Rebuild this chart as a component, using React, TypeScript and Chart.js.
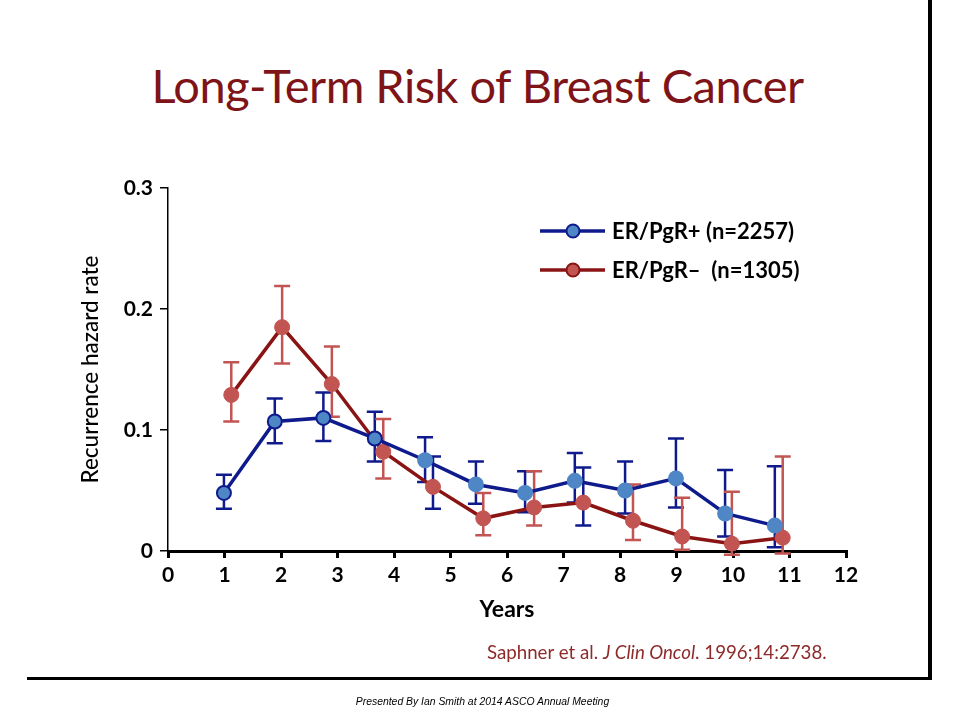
import { useEffect, useRef } from "react";
import { Chart, registerables } from "chart.js";

Chart.register(...registerables);

// series names (legend)
const seriesNames = ["ER/PgR+ (n=2257)", "ER/PgR\u2013  (n=1305)"];

// ER/PgR+ : year position, hazard rate, lower / upper error bar
const posYears = [0.99, 1.89, 2.75, 3.66, 4.55, 5.45, 6.32, 7.2, 8.09, 8.99, 9.86, 10.74];
const posRate = [0.048, 0.107, 0.11, 0.093, 0.075, 0.055, 0.048, 0.058, 0.05, 0.06, 0.031, 0.021];
const posLow = [0.035, 0.089, 0.091, 0.074, 0.057, 0.039, 0.032, 0.04, 0.031, 0.036, 0.012, 0.003];
const posHigh = [0.063, 0.126, 0.131, 0.115, 0.094, 0.074, 0.066, 0.081, 0.074, 0.093, 0.067, 0.07];

// ER/PgR- : year position, hazard rate, lower / upper error bar
const negYears = [1.12, 2.02, 2.9, 3.81, 4.69, 5.58, 6.48, 7.35, 8.23, 9.1, 9.98, 10.88];
const negRate = [0.129, 0.185, 0.138, 0.082, 0.053, 0.027, 0.036, 0.04, 0.025, 0.012, 0.006, 0.011];
const negLow = [0.107, 0.155, 0.111, 0.06, 0.035, 0.013, 0.021, 0.021, 0.009, 0.001, -0.003, -0.002];
const negHigh = [0.156, 0.219, 0.169, 0.109, 0.078, 0.048, 0.066, 0.069, 0.055, 0.044, 0.049, 0.078];

// axis ticks
const xTicks = [0, 1, 2, 3, 4, 5, 6, 7, 8, 9, 10, 11, 12];
const yTicks = [0, 0.1, 0.2, 0.3];

const NAVY = "#0f1b8c";
const LIGHT_BLUE = "#4f86c6";
const DARK_RED = "#8a1414";
const RED = "#c25452";

// in the slide, two of the red error bars are drawn in navy
const negNavyBars = [4, 7];

const errorBars = {
  id: "errorBars",
  beforeDatasetsDraw(chart) {
    const { ctx } = chart;
    const yScale = chart.scales.y;
    chart.data.datasets.forEach((ds, i) => {
      const meta = chart.getDatasetMeta(i);
      meta.data.forEach((pt, j) => {
        const x = pt.x;
        const yl = yScale.getPixelForValue(ds.errLow[j]);
        const yh = yScale.getPixelForValue(ds.errHigh[j]);
        ctx.save();
        ctx.strokeStyle = ds.errColor(j);
        ctx.lineWidth = 2.5;
        ctx.beginPath();
        ctx.moveTo(x, yl);
        ctx.lineTo(x, yh);
        ctx.moveTo(x - 8, yl);
        ctx.lineTo(x + 8, yl);
        ctx.moveTo(x - 8, yh);
        ctx.lineTo(x + 8, yh);
        ctx.stroke();
        ctx.restore();
      });
    });
  },
};

const slideLegend = {
  id: "slideLegend",
  afterDraw(chart) {
    const { ctx } = chart;
    const styles = [
      { line: NAVY, fill: LIGHT_BLUE },
      { line: DARK_RED, fill: RED },
    ];
    ctx.save();
    seriesNames.forEach((name, i) => {
      const y = 231 + i * 39;
      ctx.strokeStyle = styles[i].line;
      ctx.lineWidth = 3.5;
      ctx.beginPath();
      ctx.moveTo(540, y);
      ctx.lineTo(605, y);
      ctx.stroke();
      ctx.beginPath();
      ctx.arc(573, y, 6.5, 0, Math.PI * 2);
      ctx.fillStyle = styles[i].fill;
      ctx.fill();
      ctx.lineWidth = 2;
      ctx.stroke();
      ctx.fillStyle = "#000";
      ctx.font = "bold 22px Lato";
      ctx.textBaseline = "middle";
      ctx.fillText(name, 612, y + 1);
    });
    ctx.restore();
  },
};

export default function App() {
  const canvasRef = useRef(null);

  useEffect(() => {
    const chart = new Chart(canvasRef.current, {
      type: "line",
      data: {
        datasets: [
          {
            label: seriesNames[0],
            data: posYears.map((x, i) => ({ x, y: posRate[i] })),
            errLow: posLow,
            errHigh: posHigh,
            errColor: () => NAVY,
            borderColor: NAVY,
            borderWidth: 3.5,
            pointRadius: 7,
            pointBackgroundColor: LIGHT_BLUE,
            pointBorderColor: (c) => (c.dataIndex < 4 ? NAVY : LIGHT_BLUE),
            pointBorderWidth: 2,
            tension: 0,
          },
          {
            label: seriesNames[1],
            data: negYears.map((x, i) => ({ x, y: negRate[i] })),
            errLow: negLow,
            errHigh: negHigh,
            errColor: (j) => (negNavyBars.includes(j) ? NAVY : RED),
            borderColor: DARK_RED,
            borderWidth: 3.5,
            pointRadius: 7.5,
            pointBackgroundColor: RED,
            pointBorderColor: RED,
            pointBorderWidth: 1,
            tension: 0,
          },
        ],
      },
      options: {
        animation: false,
        responsive: true,
        maintainAspectRatio: false,
        layout: { padding: { left: 0, top: 188, right: 114, bottom: 0 } },
        plugins: {
          legend: { display: false },
          tooltip: { enabled: false },
        },
        scales: {
          x: {
            type: "linear",
            min: 0,
            max: 12,
            afterFit: (s) => {
              s.height = 169;
            },
            afterBuildTicks: (s) => {
              s.ticks = xTicks.map((v) => ({ value: v }));
            },
            border: { display: true, color: "#000", width: 3 },
            grid: {
              drawOnChartArea: false,
              drawTicks: true,
              tickLength: 7,
              color: "#000",
              lineWidth: 3,
            },
            ticks: {
              color: "#000",
              padding: 5,
              maxRotation: 0,
              font: { family: "Lato", size: 21, weight: "bold" },
            },
            title: {
              display: true,
              text: "Years",
              color: "#000",
              font: { family: "Lato", size: 23, weight: "bold" },
              padding: { top: 0, bottom: 97 },
            },
          },
          y: {
            min: 0,
            max: 0.3,
            afterFit: (s) => {
              s.width = 168;
            },
            afterBuildTicks: (s) => {
              s.ticks = yTicks.map((v) => ({ value: v }));
            },
            border: { display: true, color: "#000", width: 1.5 },
            grid: {
              drawOnChartArea: false,
              drawTicks: true,
              tickLength: 8,
              color: "#000",
              lineWidth: 1.5,
            },
            ticks: {
              color: "#000",
              padding: 7,
              font: { family: "Lato", size: 21, weight: "bold" },
              callback: (v) => (v === 0 ? "0" : Number(v).toFixed(1)),
            },
            title: {
              display: true,
              text: "Recurrence hazard rate",
              color: "#000",
              font: { family: "Lato", size: 22.5, weight: "500" },
              padding: { top: 77, bottom: 0 },
            },
          },
        },
      },
      plugins: [errorBars, slideLegend],
    });
    return () => chart.destroy();
  }, []);

  return (
    <div
      style={{
        position: "fixed",
        left: 0,
        top: 0,
        width: 960,
        height: 720,
        background: "#fff",
        overflow: "hidden",
      }}
    >
      <div
        style={{
          position: "absolute",
          left: 0,
          width: 955,
          top: 57,
          textAlign: "center",
          fontFamily: "Lato",
          fontSize: 47,
          color: "#7e1418",
          letterSpacing: -0.5,
          whiteSpace: "nowrap",
        }}
      >
        Long-Term Risk of Breast Cancer
      </div>
      <canvas ref={canvasRef} style={{ position: "absolute", left: 0, top: 0, width: 960, height: 720 }}></canvas>
      <div
        style={{
          position: "absolute",
          left: 487,
          top: 641,
          fontFamily: "Lato",
          fontSize: 18.7,
          color: "#8e2a2a",
          whiteSpace: "nowrap",
        }}
      >
        Saphner et al. <i>J Clin Oncol</i>. 1996;14:2738.
      </div>
      <div style={{ position: "absolute", left: 27, top: 677, width: 905, height: 3, background: "#000" }}></div>
      <div style={{ position: "absolute", left: 928, top: 0, width: 4, height: 680, background: "#000" }}></div>
      <div
        style={{
          position: "absolute",
          left: 0,
          width: 965,
          top: 696,
          textAlign: "center",
          fontFamily: "'Liberation Sans', Arial, sans-serif",
          fontStyle: "italic",
          fontSize: 10.4,
          color: "#000",
          whiteSpace: "nowrap",
        }}
      >
        Presented By Ian Smith at 2014 ASCO Annual Meeting
      </div>
    </div>
  );
}
